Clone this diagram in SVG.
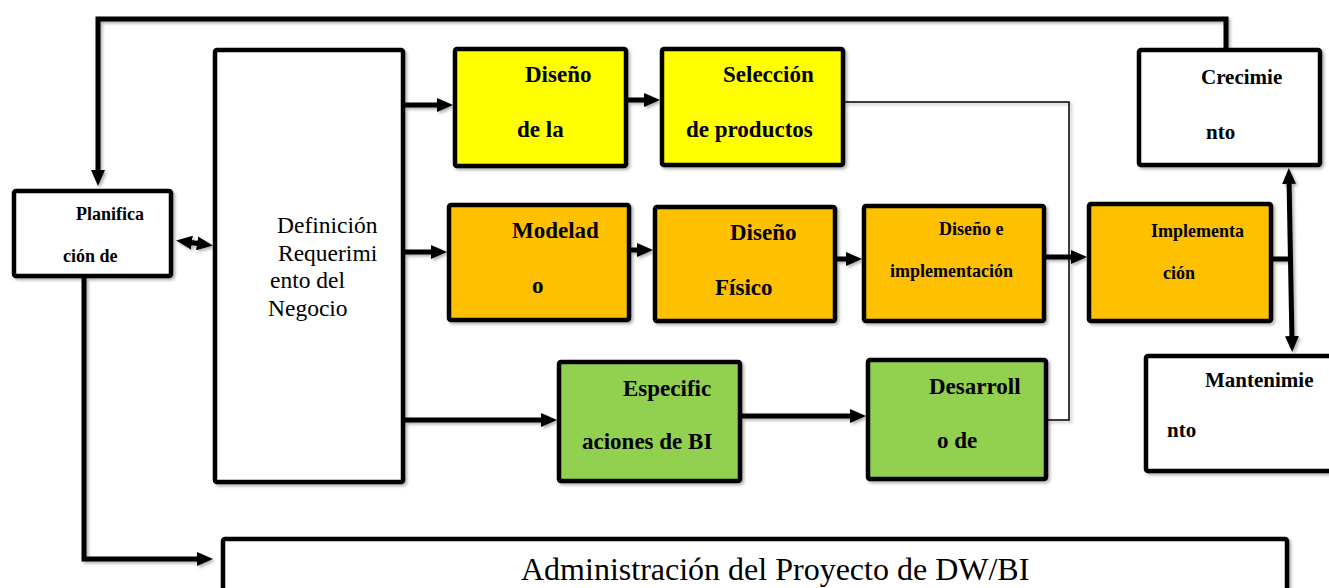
<svg xmlns="http://www.w3.org/2000/svg" width="1329" height="588" viewBox="0 0 1329 588">
<defs>
<style>
.box{stroke:#000;stroke-width:4.5;}
.w{fill:#fff;}
.y{fill:#ffff00;}
.o{fill:#ffc000;}
.g{fill:#92d050;}
.bt{font-family:"Liberation Serif","Times New Roman",serif;font-weight:bold;fill:#000;}
.rt{font-family:"Liberation Serif","Times New Roman",serif;fill:#000;}
.c{fill:none;stroke:#000;stroke-width:5;}
.thin{fill:none;stroke:#000;stroke-width:1.5;}
</style>
<marker id="ah" markerUnits="userSpaceOnUse" markerWidth="16" markerHeight="14" refX="5" refY="7" orient="auto-start-reverse">
<path d="M0,0 L16,7 L0,14 z" fill="#000"/>
</marker>
<filter id="sh" x="-10%" y="-10%" width="130%" height="130%">
<feDropShadow dx="2" dy="2" stdDeviation="1.5" flood-color="#000" flood-opacity="0.3"/>
</filter>
<filter id="shc" filterUnits="userSpaceOnUse" x="0" y="0" width="1329" height="588">
<feDropShadow dx="2" dy="2" stdDeviation="1.5" flood-color="#000" flood-opacity="0.3"/>
</filter>
</defs>
<rect width="1329" height="588" fill="#fff"/>

<g id="connectors" filter="url(#shc)">
<path class="c" d="M1226,48 V19 H98 V175" marker-end="url(#ah)"/>
<path class="c" d="M84,278 V559 H202" marker-end="url(#ah)"/>
<path class="c" d="M187,242 L202,244" marker-start="url(#ah)" marker-end="url(#ah)"/>
<path class="c" d="M405,105 H442" marker-end="url(#ah)"/>
<path class="c" d="M628,100 H649" marker-end="url(#ah)"/>
<path class="c" d="M405,252 H436" marker-end="url(#ah)"/>
<path class="c" d="M631,250 H642" marker-end="url(#ah)"/>
<path class="c" d="M837,259 H851" marker-end="url(#ah)"/>
<path class="c" d="M1046,257 H1076" marker-end="url(#ah)"/>
<path class="thin" d="M845,102 H1069 V420 H1048"/>
<path class="c" d="M405,420 H546" marker-end="url(#ah)"/>
<path class="c" d="M742,416 H855" marker-end="url(#ah)"/>
<path class="c" d="M1273,259 H1290"/>
<path class="c" d="M1289,179 L1292,341" marker-start="url(#ah)" marker-end="url(#ah)"/>
</g>

<g id="planificacion">
<rect class="box w" filter="url(#sh)" x="14" y="191" width="157" height="85" rx="2"/>
<text class="bt" font-size="18" x="76" y="220">Planifica</text>
<text class="bt" font-size="18" x="63" y="262">ción de</text>
</g>

<g id="definicion">
<rect class="box w" filter="url(#sh)" x="215" y="50" width="188" height="432" rx="2"/>
<text class="rt" font-size="23.5" x="277" y="233">Definición</text>
<text class="rt" font-size="23.5" x="278" y="261">Requerimi</text>
<text class="rt" font-size="23.5" x="270" y="288">ento del</text>
<text class="rt" font-size="23.5" x="268" y="316">Negocio</text>
</g>

<g id="diseno-arquitectura">
<rect class="box y" filter="url(#sh)" x="455" y="49" width="171" height="117" rx="2"/>
<text class="bt" font-size="23" x="525" y="82">Diseño</text>
<text class="bt" font-size="23" x="517" y="137">de la</text>
</g>

<g id="seleccion">
<rect class="box y" filter="url(#sh)" x="662" y="49" width="181" height="116" rx="2"/>
<text class="bt" font-size="23" x="723" y="82">Selección</text>
<text class="bt" font-size="23" x="686" y="137">de productos</text>
</g>

<g id="modelado">
<rect class="box o" filter="url(#sh)" x="449" y="205" width="180" height="115" rx="2"/>
<text class="bt" font-size="23" x="512" y="238">Modelad</text>
<text class="bt" font-size="23" x="532" y="293">o</text>
</g>

<g id="diseno-fisico">
<rect class="box o" filter="url(#sh)" x="655" y="207" width="180" height="114" rx="2"/>
<text class="bt" font-size="23" x="730" y="240">Diseño</text>
<text class="bt" font-size="23" x="715" y="295">Físico</text>
</g>

<g id="diseno-implementacion">
<rect class="box o" filter="url(#sh)" x="864" y="206" width="180" height="115" rx="2"/>
<text class="bt" font-size="18" x="939" y="235">Diseño e</text>
<text class="bt" font-size="18" x="890" y="277">implementación</text>
</g>

<g id="implementacion">
<rect class="box o" filter="url(#sh)" x="1089" y="204" width="182" height="117" rx="2"/>
<text class="bt" font-size="18" x="1151" y="237">Implementa</text>
<text class="bt" font-size="18" x="1163" y="279">ción</text>
</g>

<g id="crecimiento">
<rect class="box w" filter="url(#sh)" x="1139" y="50" width="181" height="115" rx="2"/>
<text class="bt" font-size="21" x="1201" y="84">Crecimie</text>
<text class="bt" font-size="21" x="1206" y="139">nto</text>
</g>

<g id="mantenimiento">
<rect class="box w" filter="url(#sh)" x="1146" y="356" width="200" height="115" rx="2"/>
<text class="bt" font-size="21" x="1205" y="387">Mantenimie</text>
<text class="bt" font-size="21" x="1167" y="437">nto</text>
</g>

<g id="especificaciones">
<rect class="box g" filter="url(#sh)" x="559" y="362" width="181" height="119" rx="2"/>
<text class="bt" font-size="23" x="623" y="396">Especific</text>
<text class="bt" font-size="23" x="582" y="449">aciones de BI</text>
</g>

<g id="desarrollo">
<rect class="box g" filter="url(#sh)" x="868" y="360" width="178" height="119" rx="2"/>
<text class="bt" font-size="23" x="929" y="394">Desarroll</text>
<text class="bt" font-size="23" x="937" y="448">o de</text>
</g>

<g id="administracion">
<rect class="box w" filter="url(#sh)" x="223" y="539" width="1064" height="80" rx="2"/>
<text class="rt" font-size="32" x="521" y="580">Administración del Proyecto de DW/BI</text>
</g>
</svg>
